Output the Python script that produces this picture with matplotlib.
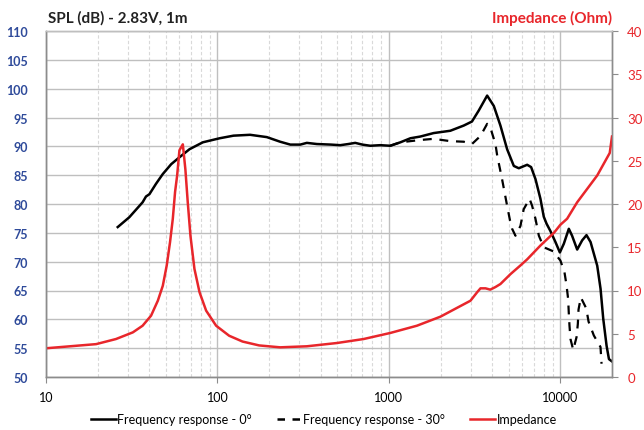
import matplotlib
matplotlib.use("Agg")
import matplotlib.pyplot as plt
from matplotlib.ticker import FixedLocator, LogLocator, NullFormatter, FixedFormatter
from matplotlib.lines import Line2D

plt.rcParams['font.family'] = ['Lato', 'DejaVu Sans']

# ---- data ----
freq0 = [26.2, 30.6, 36.6, 38.3, 40.1, 43.8, 48, 53.7, 60, 68.7, 82.2, 103, 124, 155, 194,
         232, 266, 304, 332, 380, 460, 520, 580, 636, 700, 778, 891, 1018, 1167, 1334, 1525,
         1823, 2280, 2730, 3050, 3340, 3740, 4090, 4470, 4890, 5350, 5720, 6400, 6750, 7160,
         7650, 8000, 8300, 8750, 9360, 9930, 10470, 11200, 11700, 12530, 13400, 14200, 15000,
         16400, 17150, 17780, 18600, 19200, 20000]
spl0 = [76.0, 77.7, 80.3, 81.3, 81.7, 83.5, 85.2, 86.9, 88.1, 89.5, 90.7, 91.4, 91.85, 92.0, 91.6,
        90.8, 90.3, 90.3, 90.6, 90.4, 90.3, 90.2, 90.4, 90.6, 90.3, 90.1, 90.2, 90.1, 90.7, 91.4, 91.7,
        92.3, 92.7, 93.6, 94.3, 96.2, 98.8, 97.0, 93.6, 89.5, 86.6, 86.2, 86.8, 86.4, 84.3,
        80.9, 77.8, 76.6, 75.3, 73.4, 71.6, 73.1, 75.7, 74.5, 72.1, 73.7, 74.6, 73.4,
        69.3, 65.3, 60.1, 55.4, 53.1, 52.7]

freq30 = [1018, 1167, 1525, 1823, 2280, 2730, 3050, 3420, 3740, 3900, 4180, 4280, 4570, 4890,
          5110, 5230, 5470, 5850, 6110, 6610, 6840, 7160, 7490, 8000, 9080, 10000, 10560, 10860,
          11100, 11190, 11300, 11450, 11880, 12420, 12640, 12760, 13160, 14150, 14600, 15670,
          17140, 17380]
spl30 = [90.1, 90.7, 91.1, 91.3, 90.9, 90.8, 90.4, 91.8, 93.9, 93.3, 90.4, 88.4, 84.3, 79.7,
         76.8, 75.7, 74.5, 76.2, 79.1, 80.9, 79.7, 77.4, 74.5, 72.5, 71.8, 70.2, 68.2, 65.9,
         63.5, 61.2, 58.9, 56.6, 54.7, 56.9, 59.2, 61.7, 63.8, 61.9, 59.6, 57.2,
         55.2, 52.3]

freqZ = [10, 19.6, 25.6, 32.1, 36.6, 41, 44.9, 48, 50.6, 52.9, 54.9, 56.6, 58.2, 60, 62.8, 65,
         67.1, 69.6, 73.4, 78.6, 85.9, 98.2, 117, 140, 175, 232, 332, 498, 712, 1018, 1457,
         1995, 2990, 3270, 3420, 3660, 3900, 4180, 4470, 5120, 5850, 6400, 7650, 9200, 10000,
         10950, 12530, 16400, 19400, 20000]
imp = [3.32, 3.8, 4.39, 5.16, 5.93, 7.09, 8.82, 10.55, 12.9, 15.6, 18.3, 21.4, 23.3, 26.2, 26.9, 24.0,
       20.2, 16.3, 12.5, 9.8, 7.67, 5.93, 4.77, 4.1, 3.65, 3.43, 3.55, 3.93, 4.39, 5.09, 5.93,
       6.97, 8.82, 9.8, 10.25, 10.25, 10.1, 10.4, 10.75, 11.9, 12.9, 13.6, 15.2, 16.7, 17.6,
       18.3, 20.2, 23.3, 25.9, 27.8]

spl_ticks = list(range(50, 111, 5))
imp_ticks = list(range(0, 41, 5))
x_ticks = [10, 100, 1000, 10000]
x_labels = ["10", "100", "1000", "10000"]

legend_labels = ["Frequency response - 0°", "Frequency response - 30°", "Impedance"]

# ---- style ----
BLUE = '#2E4A9A'
RED = '#E8262B'
MAJ = '#BFBFBF'
MIN = '#D9D9D9'
SPINE = '#8C8C8C'

fig = plt.figure(figsize=(6.44, 4.31), dpi=100)
ax = fig.add_axes([46/644, 53/431, (612-46)/644, (378-32)/431])
ax2 = ax.twinx()

ax.set_xscale('log')
ax.set_xlim(10, 20000)
ax.set_ylim(50, 110)
ax2.set_ylim(0, 40)

ax.xaxis.set_major_locator(FixedLocator(x_ticks))
ax.xaxis.set_major_formatter(FixedFormatter(x_labels))
ax.xaxis.set_minor_locator(LogLocator(base=10, subs=range(2, 10)))
ax.xaxis.set_minor_formatter(NullFormatter())
ax.set_yticks(spl_ticks)
ax2.set_yticks(imp_ticks)

ax.grid(which='major', axis='both', color=MAJ, lw=1.0, ls='-')
ax.grid(which='minor', axis='x', color=MIN, lw=0.8, ls=(0, (3, 2)))
ax.set_axisbelow(True)

for a in (ax, ax2):
    for s in a.spines.values():
        s.set_color(SPINE)
        s.set_linewidth(1.0)
ax.spines['top'].set_color(MAJ)
ax2.spines['top'].set_color(MAJ)

ax.tick_params(axis='y', which='both', direction='out', length=0, color=SPINE,
               labelcolor=BLUE, labelsize=9, pad=13)
for t in ax.get_yticklabels():
    t.set_fontweight('bold')
ax.tick_params(axis='x', which='major', direction='out', length=4, color=SPINE,
               labelcolor='black', labelsize=9, pad=6)
ax.tick_params(axis='x', which='minor', length=0)
ax2.tick_params(axis='y', direction='out', length=4, color=SPINE,
                labelcolor=RED, labelsize=9.5, pad=7)

l0, = ax.plot(freq0, spl0, color='black', lw=1.8, solid_joinstyle='round')
l30, = ax.plot(freq30, spl30, color='black', lw=1.6, ls=(0, (4, 3.5)))
lz, = ax2.plot(freqZ, imp, color=RED, lw=1.8, solid_joinstyle='round')

fig.text(48/644, 1 - 18/431, "SPL (dB) - 2.83V, 1m", fontsize=11, fontweight='bold',
         color='#222222', ha='left', va='center')
fig.text(612/644, 1 - 18/431, "Impedance (Ohm)", fontsize=11, fontweight='bold',
         color=RED, ha='right', va='center')

handles = [Line2D([], [], color='black', lw=1.8),
           Line2D([], [], color='black', lw=1.8, ls=(0, (3, 3))),
           Line2D([], [], color=RED, lw=1.8)]
fig.legend(handles, legend_labels, loc='center', bbox_to_anchor=(324/644, 1 - 420/431),
           ncol=3, frameon=False, fontsize=9, handlelength=2.0, handletextpad=0.1,
           columnspacing=2.0)

fig.savefig("out.png", dpi=100)
